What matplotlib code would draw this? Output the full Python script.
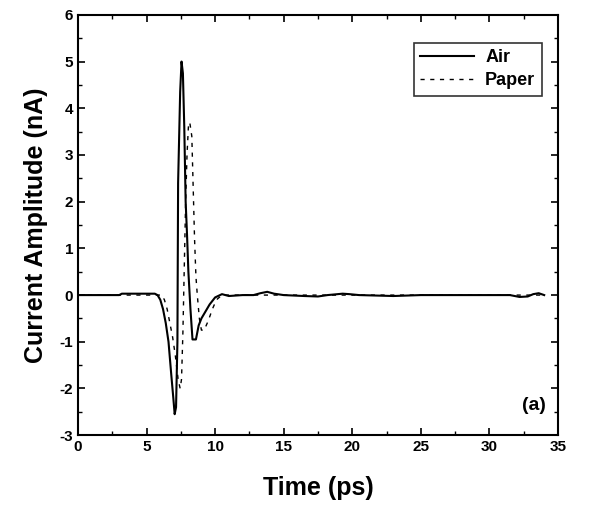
import matplotlib
matplotlib.use('Agg')
import matplotlib.pyplot as plt
from matplotlib.ticker import MultipleLocator

plt.rcParams['font.family'] = ['Liberation Sans', 'DejaVu Sans']
plt.rcParams['axes.unicode_minus'] = False

# Air measurement (time in ps, current in nA)
air_t = [0, 3.0, 3.2, 5.6, 5.8, 6.0, 6.2, 6.4, 6.6, 6.8, 6.95, 7.05, 7.15, 7.25,
         7.3, 7.45, 7.55, 7.65, 7.75, 7.85, 7.95, 8.05, 8.2, 8.35, 8.6, 8.8,
         9.0, 9.3, 9.6, 10.0, 10.5, 11.0, 12.0, 12.8, 13.3, 13.8, 14.3, 15.0,
         16.5, 17.5, 18.2, 19.3, 19.8, 20.5, 23.0, 25.0, 31.5, 32.2, 32.8,
         33.2, 33.6, 34.0]
air_i = [0, 0, 0.03, 0.03, 0.0, -0.1, -0.3, -0.6, -1.0, -1.7, -2.2, -2.55, -2.4, -1.0,
         2.4, 4.35, 5.0, 4.75, 3.6, 2.0, 1.3, 0.5, -0.3, -0.95, -0.95, -0.65,
         -0.5, -0.35, -0.2, -0.05, 0.02, -0.02, 0.0, 0.0, 0.04, 0.07, 0.03, 0.0,
         -0.02, -0.03, 0.0, 0.03, 0.02, 0.0, -0.02, 0.0, 0.0, -0.04, -0.03,
         0.02, 0.04, 0.0]

# Paper measurement
paper_t = [0, 6.1, 6.3, 6.5, 6.7, 6.9, 7.1, 7.3, 7.45, 7.55, 7.65, 7.75, 7.85,
           7.95, 8.05, 8.15, 8.3, 8.4, 8.5, 8.6, 8.7, 8.85, 9.0, 9.2, 9.5,
           9.8, 10.1, 10.5, 34.0]
paper_i = [0, 0, -0.1, -0.3, -0.6, -0.9, -1.3, -1.8, -2.0, -1.8, -0.8, 0.6, 2.0,
           3.0, 3.6, 3.7, 3.4, 2.3, 1.2, 0.4, 0.0, -0.5, -0.75, -0.75, -0.55,
           -0.3, -0.1, 0.0, 0.0]

fig = plt.figure(figsize=(5.91, 5.12), dpi=100)
ax = fig.add_axes([0.132, 0.150, 0.812, 0.821])

ax.plot(air_t, air_i, color='black', lw=1.5, label='Air')
ax.plot(paper_t, paper_i, color='black', lw=1.0, linestyle=(0, (3, 4)), label='Paper')

ax.set_xlim(0, 35)
ax.set_ylim(-3, 6)
ax.xaxis.set_major_locator(MultipleLocator(5))
ax.xaxis.set_minor_locator(MultipleLocator(2.5))
ax.yaxis.set_major_locator(MultipleLocator(1))
ax.yaxis.set_minor_locator(MultipleLocator(0.5))
ax.tick_params(which='both', direction='in', top=True, right=True)
ax.tick_params(which='major', length=5, width=1.2, labelsize=11)
ax.tick_params(which='minor', length=3, width=1.0)
for lab in ax.get_xticklabels() + ax.get_yticklabels():
    lab.set_fontweight('bold')
for s in ax.spines.values():
    s.set_linewidth(1.5)

ax.set_xlabel('Time (ps)', fontsize=18, fontweight='bold', labelpad=16)
ax.set_ylabel('Current Amplitude (nA)', fontsize=18, fontweight='bold', labelpad=8)

leg = ax.legend(loc='upper right', bbox_to_anchor=(0.985, 0.955), fontsize=13,
                frameon=True, fancybox=False, edgecolor='black', handlelength=3,
                borderpad=0.35, labelspacing=0.35, handletextpad=0.6)
leg.get_frame().set_linewidth(1.2)
for t in leg.get_texts():
    t.set_fontweight('bold')

ax.text(0.975, 0.05, '(a)', transform=ax.transAxes, ha='right', va='bottom',
        fontsize=14, fontweight='bold')

fig.savefig('out.png', dpi=100)
